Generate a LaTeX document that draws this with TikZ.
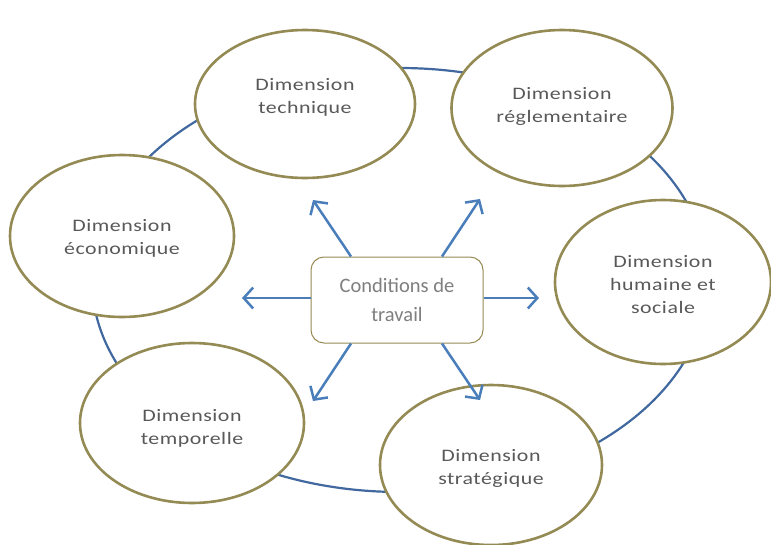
\documentclass[tikz,border=0pt]{standalone}
\usepackage{fontspec}
\setmainfont{Carlito}
\newfontfamily\dimfont[FakeStretch=1.25,LetterSpace=3]{Carlito}
\usetikzlibrary{shapes.geometric,arrows.meta}
\definecolor{olivebd}{HTML}{948A54}
\definecolor{ringblue}{HTML}{41689F}
\definecolor{arrblue}{HTML}{4A7EBB}
\definecolor{dimtext}{HTML}{595959}
\definecolor{ctext}{HTML}{7F7F7F}
\tikzset{
  dimnode/.style={ellipse, draw=olivebd, line width=2.6pt, fill=white, inner sep=0pt},
  dimlabel/.style={inner sep=0pt, font=\dimfont\fontsize{17.5}{23}\selectfont, text=dimtext, align=center},
  centerbox/.style={rectangle, rounded corners=13pt, draw=olivebd, line width=1pt, fill=white,
    minimum width=172pt, minimum height=86pt, font=\fontsize{20.5}{29}\selectfont, text=ctext, align=center},
  spoke/.style={draw=arrblue, line width=2.5pt, -{Straight Barb[length=9.5pt,width=21pt,line width=2.5pt]}},
}
\begin{document}
\begin{tikzpicture}[x=1pt,y=-1pt]
\useasboundingbox (0,0) rectangle (771,544);
% ring
\draw[ringblue, line width=2.2pt] (400,280) ellipse [x radius=308, y radius=212];
% dimensions
\node[dimnode, minimum width=220pt, minimum height=148pt] (tech) at (305,104) {};
\node[dimnode, minimum width=221pt, minimum height=156pt] (regl) at (562,108) {};
\node[dimnode, minimum width=224pt, minimum height=162pt] (eco) at (122,236) {};
\node[dimnode, minimum width=216pt, minimum height=164pt] (hum) at (663,282) {};
\node[dimnode, minimum width=224pt, minimum height=160pt] (temp) at (192,423) {};
\node[dimnode, minimum width=222pt, minimum height=160pt] (strat) at (491,465) {};
\node[dimlabel] (techt) at (305,97) {Dimension\\technique};
\node[dimlabel] (reglt) at (562,106) {Dimension\\réglementaire};
\node[dimlabel] (ecot) at (122,238) {Dimension\\économique};
\node[dimlabel] (humt) at (663,285) {Dimension\\humaine et\\sociale};
\node[dimlabel] (tempt) at (192,428) {Dimension\\temporelle};
\node[dimlabel] (stratt) at (491,468) {Dimension\\stratégique};
% center
\node[centerbox] (c) at (397,300) {Conditions de\\travail};
% arrow ends
\coordinate (e1) at (313,200);
\coordinate (e2) at (480,199);
\coordinate (e3) at (242,298);
\coordinate (e4) at (539,298);
\coordinate (e5) at (313,401);
\coordinate (e6) at (480,400);
\draw[spoke] ([xshift=-46pt]c.north) -- (e1);
\draw[spoke] ([xshift=45pt]c.north) -- (e2);
\draw[spoke] ([yshift=2pt]c.west) -- (e3);
\draw[spoke] ([yshift=2pt]c.east) -- (e4);
\draw[spoke] ([xshift=-46pt]c.south) -- (e5);
\draw[spoke] ([xshift=45pt]c.south) -- (e6);
\end{tikzpicture}
\end{document}
